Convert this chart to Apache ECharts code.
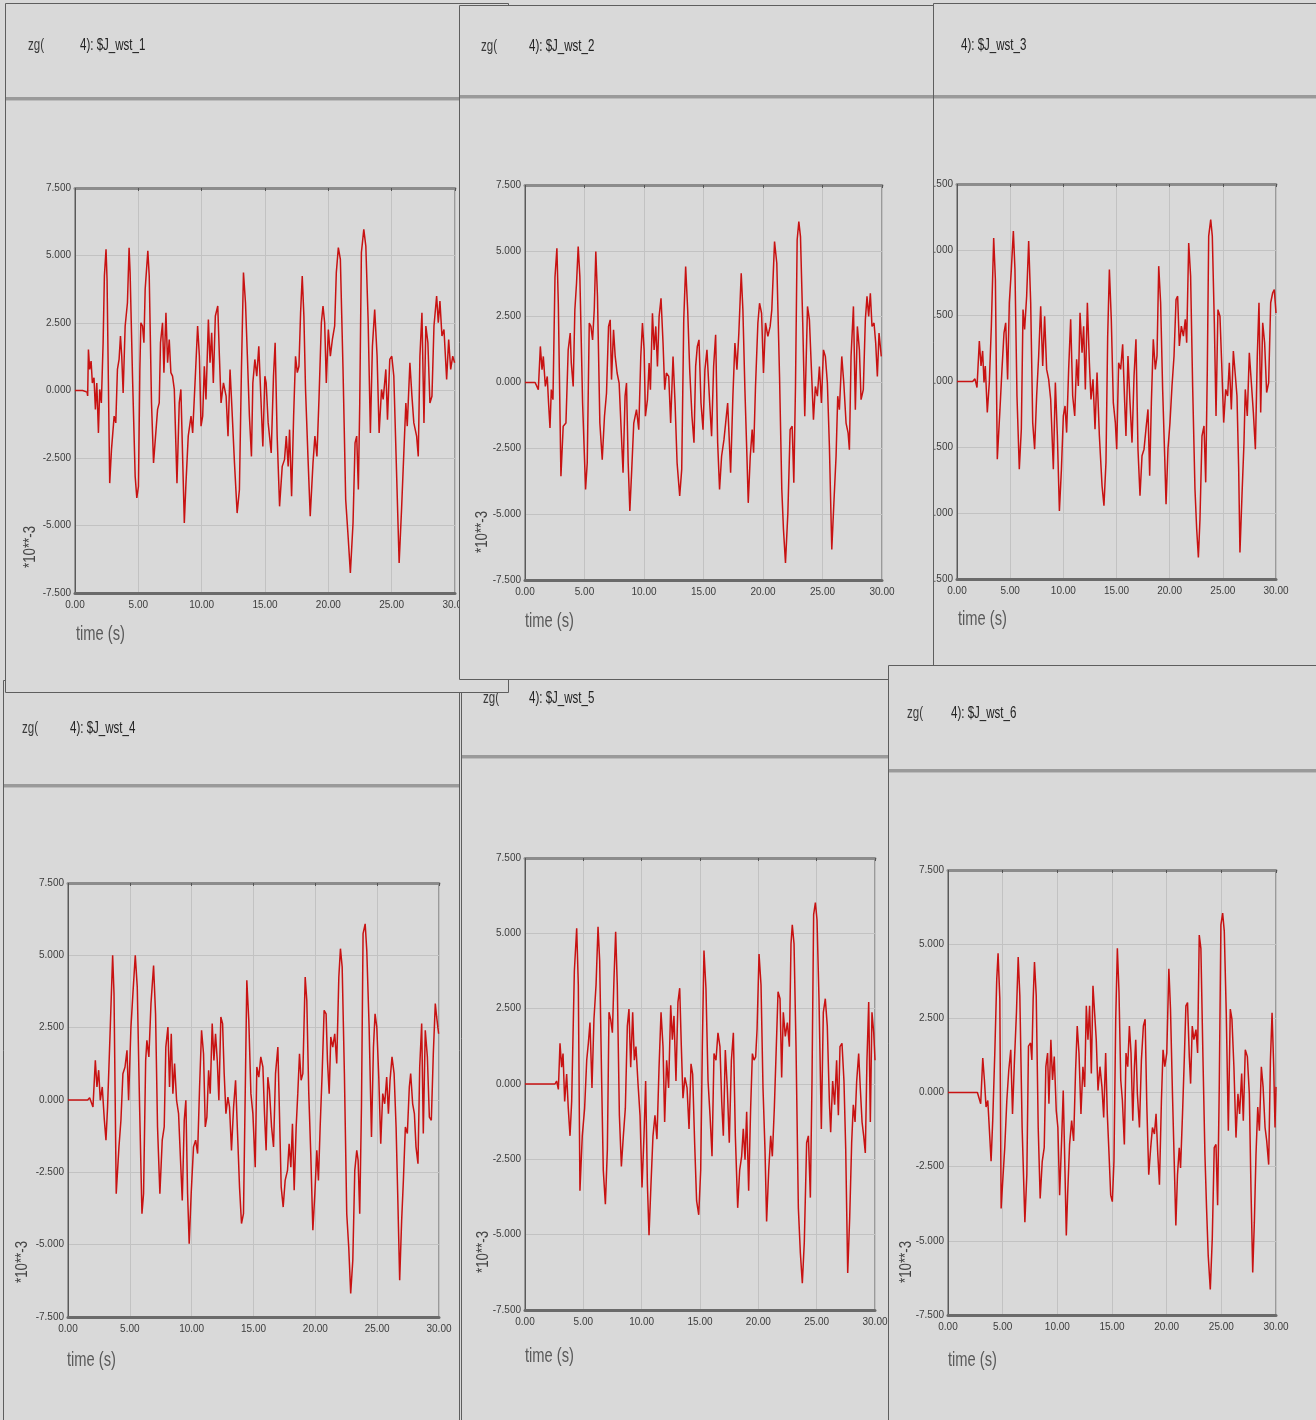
<!DOCTYPE html>
<html>
<head>
<meta charset="utf-8">
<script src="https://cdn.jsdelivr.net/npm/echarts@6/dist/echarts.min.js"></script>
<style>
html,body{margin:0;padding:0;background:#d9d9d9;}
#chart{width:1316px;height:1420px;}
</style>
</head>
<body>
<div id="chart"></div>
<script>
// ---- data (values in units of 10**-3) ----
const xTickLabels = ['0.00','5.00','10.00','15.00','20.00','25.00','30.00'];
const yTickLabels = ['-7.500','-5.000','-2.500','0.000','2.500','5.000','7.500'];
const titles = ['4): $J_wst_1','4): $J_wst_2','4): $J_wst_3','4): $J_wst_4','4): $J_wst_5','4): $J_wst_6'];
const prefix = 'zg(';
const xName = 'time (s)';
const yName = '*10**-3';

const wst1 = [[0,0],[0.6,0],[0.95,-0.06],[1.0,-0.2],[1.06,1.52],[1.16,0.78],[1.27,1.09],[1.37,0.28],[1.5,0.47],[1.61,-0.7],[1.72,0.28],[1.85,-1.57],[1.95,0.04],[2.08,-0.46],[2.22,1.77],[2.32,4.24],[2.45,5.23],[2.53,4.12],[2.74,-3.43],[2.88,-2.19],[3.09,-0.95],[3.22,-1.2],[3.35,0.78],[3.48,1.15],[3.59,2.02],[3.69,1.27],[3.8,-0.09],[3.96,2.39],[4.14,3.25],[4.27,5.29],[4.35,4.37],[4.54,0.53],[4.75,-3.18],[4.88,-3.98],[5.01,-3.55],[5.12,0.78],[5.2,2.51],[5.33,2.39],[5.44,1.77],[5.54,3.75],[5.75,5.17],[5.86,4.24],[6.04,-0.46],[6.2,-2.68],[6.31,-2.68],[6.52,-0.7],[6.65,-0.46],[6.75,1.77],[6.91,2.51],[7.02,0.66],[7.18,2.88],[7.31,1.03],[7.44,1.89],[7.57,0.66],[7.7,0.53],[7.84,0.04],[8.05,-3.43],[8.23,-0.46],[8.36,0.04],[8.63,-4.91],[8.76,-3.43],[8.94,-1.69],[9.16,-0.95],[9.29,-1.57],[9.5,0.53],[9.68,2.39],[9.82,1.27],[9.95,-1.32],[10.08,-0.95],[10.21,0.9],[10.34,-0.33],[10.53,2.63],[10.66,1.03],[10.79,2.14],[10.92,0.28],[11.08,2.76],[11.27,3.13],[11.4,1.27],[11.53,-0.46],[11.72,0.28],[11.93,-0.21],[12.08,-1.69],[12.24,0.78],[12.37,-0.46],[12.59,-2.68],[12.8,-4.54],[12.98,-3.67],[13.14,0.78],[13.3,4.37],[13.46,3.25],[13.61,1.27],[13.77,-0.95],[13.93,-2.44],[14.04,0.28],[14.2,1.15],[14.35,0.53],[14.51,1.64],[14.67,-0.21],[14.83,-2.07],[14.99,0.53],[15.09,0.28],[15.25,-1.2],[15.49,-2.31],[15.67,0.53],[15.8,1.77],[15.96,-1.69],[16.15,-4.29],[16.36,-2.81],[16.54,-2.56],[16.68,-1.69],[16.83,-2.81],[16.94,-1.45],[17.1,-3.92],[17.26,-0.95],[17.41,1.27],[17.55,0.66],[17.68,0.9],[17.81,2.88],[17.94,4.24],[18.07,2.76],[18.2,0.04],[18.39,-2.44],[18.57,-4.66],[18.79,-2.68],[18.94,-1.69],[19.1,-2.44],[19.26,-0.33],[19.45,2.51],[19.58,3.13],[19.71,2.51],[19.84,0.28],[20.0,2.26],[20.16,1.27],[20.32,1.89],[20.5,2.39],[20.63,4.37],[20.79,5.29],[20.95,4.86],[21.16,0.78],[21.37,-4.04],[21.56,-5.4],[21.74,-6.76],[21.95,-4.91],[22.11,-1.94],[22.24,-1.69],[22.37,-3.67],[22.48,-0.46],[22.61,5.11],[22.8,5.97],[22.96,5.35],[23.14,2.63],[23.32,-1.57],[23.48,1.64],[23.66,3.0],[23.85,1.27],[24.01,-1.57],[24.2,0.04],[24.33,-0.33],[24.54,0.78],[24.67,-1.08],[24.85,1.15],[25.01,1.27],[25.17,0.53],[25.38,-2.93],[25.59,-6.39],[25.78,-4.41],[25.96,-2.31],[26.12,-0.46],[26.23,-1.32],[26.44,1.03],[26.6,-0.21],[26.75,-1.2],[26.97,-1.69],[27.1,-2.44],[27.23,1.27],[27.39,2.88],[27.55,-1.2],[27.7,2.39],[27.86,1.77],[28.02,-0.46],[28.18,-0.21],[28.34,2.39],[28.55,3.5],[28.68,2.51],[28.81,3.31],[28.97,2.02],[29.13,2.26],[29.34,0.41],[29.5,1.89],[29.66,0.78],[29.82,1.27],[29.97,1.03]];

const wst2 = [[0,0],[0.85,0],[1.0,0.05],[1.12,-0.27],[1.29,1.37],[1.43,0.49],[1.54,0.99],[1.71,-0.15],[1.87,0.23],[1.98,-0.78],[2.1,-1.73],[2.21,-0.27],[2.35,-0.65],[2.52,4.0],[2.68,5.1],[2.8,3.0],[3.02,-3.56],[3.21,-1.66],[3.44,-1.54],[3.63,1.24],[3.8,1.88],[3.89,0.74],[4.05,-0.15],[4.19,2.76],[4.33,3.77],[4.47,5.16],[4.61,4.02],[4.84,-0.78],[5.09,-4.06],[5.23,-3.05],[5.4,2.26],[5.54,2.13],[5.68,1.62],[5.82,2.76],[5.95,4.97],[6.09,3.27],[6.29,-1.54],[6.49,-2.93],[6.68,-1.28],[6.85,-0.4],[7.02,2.13],[7.16,2.38],[7.27,0.11],[7.44,2.0],[7.58,0.99],[7.74,0.36],[7.91,-0.02],[8.08,-1.79],[8.24,-3.43],[8.41,-0.52],[8.53,-0.02],[8.67,-3.05],[8.81,-4.88],[8.97,-3.3],[9.14,-1.54],[9.37,-1.03],[9.56,-1.79],[9.73,0.99],[9.87,2.26],[10.01,1.24],[10.12,-1.28],[10.29,-0.65],[10.43,0.74],[10.54,-0.27],[10.71,2.63],[10.85,1.24],[10.99,2.13],[11.13,0.61],[11.27,2.51],[11.43,3.2],[11.6,1.5],[11.74,-0.27],[11.88,0.36],[12.08,0.23],[12.24,-1.54],[12.44,0.99],[12.61,-0.78],[12.78,-3.05],[13.0,-4.31],[13.17,-3.3],[13.34,2.38],[13.5,4.4],[13.67,2.76],[13.84,0.49],[14.03,-1.28],[14.2,-2.29],[14.34,0.61],[14.48,1.37],[14.62,1.62],[14.79,-0.78],[14.96,-1.79],[15.12,0.49],[15.29,1.24],[15.52,-0.78],[15.68,-2.04],[15.85,0.61],[16.02,1.81],[16.19,-2.29],[16.35,-4.06],[16.52,-2.8],[16.72,-2.17],[16.86,-1.54],[17.03,-0.78],[17.14,-1.91],[17.28,-3.43],[17.47,-0.52],[17.64,1.5],[17.81,0.49],[17.97,1.88],[18.17,4.15],[18.31,2.76],[18.48,-0.27],[18.65,-2.8],[18.76,-4.57],[18.93,-2.8],[19.09,-1.79],[19.21,-2.67],[19.37,-0.15],[19.57,2.26],[19.71,3.01],[19.88,2.63],[20.04,0.36],[20.21,2.26],[20.41,1.75],[20.6,2.13],[20.74,2.76],[20.97,5.35],[21.16,4.53],[21.39,0.23],[21.58,-4.06],[21.72,-5.58],[21.89,-6.85],[22.09,-4.95],[22.28,-1.79],[22.45,-1.66],[22.59,-3.81],[22.73,-0.15],[22.87,5.41],[23.01,6.11],[23.15,5.54],[23.34,2.26],[23.51,-1.28],[23.74,2.89],[23.9,2.38],[24.07,0.49],[24.24,-1.41],[24.4,-0.15],[24.57,-0.52],[24.74,0.61],[24.91,-0.78],[25.08,1.24],[25.24,0.99],[25.41,-0.02],[25.58,-2.42],[25.78,-6.34],[25.97,-4.44],[26.14,-2.8],[26.28,-0.52],[26.42,-1.03],[26.62,0.99],[26.79,-0.02],[26.98,-1.54],[27.15,-1.91],[27.26,-2.55],[27.4,0.99],[27.6,2.89],[27.76,-1.03],[27.93,2.13],[28.1,1.24],[28.24,-0.65],[28.43,-0.27],[28.6,2.38],[28.74,3.27],[28.88,2.51],[29.02,3.39],[29.16,2.13],[29.33,2.26],[29.47,1.5],[29.61,0.23],[29.75,1.88],[29.94,0.99]];

const wst3 = [[0,0],[1.47,0],[1.69,0.1],[1.88,-0.23],[2.1,1.54],[2.26,0.59],[2.41,1.16],[2.54,-0.04],[2.66,0.59],[2.85,-1.18],[3.04,-0.04],[3.23,2.1],[3.45,5.45],[3.61,3.87],[3.79,-2.95],[4.04,-1.06],[4.23,0.46],[4.42,1.85],[4.58,2.23],[4.76,0.08],[4.92,2.99],[5.11,4.25],[5.3,5.71],[5.45,4.25],[5.64,-0.55],[5.86,-3.33],[6.05,-1.81],[6.21,2.73],[6.36,1.98],[6.55,3.24],[6.74,5.33],[6.93,2.99],[7.12,-1.56],[7.3,-2.57],[7.49,-0.55],[7.68,0.97],[7.87,2.86],[8.06,0.59],[8.24,2.48],[8.43,0.46],[8.62,0.08],[8.81,-0.68],[9.06,-3.33],[9.25,-0.04],[9.44,-2.07],[9.63,-4.92],[9.82,-3.33],[10.0,-1.31],[10.16,-0.93],[10.31,-1.94],[10.5,0.46],[10.69,2.36],[10.88,-0.55],[11.07,-1.31],[11.25,0.84],[11.41,-0.17],[11.57,2.61],[11.76,1.09],[11.91,2.1],[12.07,-0.3],[12.26,2.99],[12.45,0.71],[12.6,-0.68],[12.79,0.08],[12.98,-1.81],[13.17,0.34],[13.39,-2.07],[13.64,-3.96],[13.82,-4.72],[14.01,-3.07],[14.17,1.72],[14.33,4.25],[14.51,2.36],[14.7,-0.8],[14.89,-1.56],[15.02,-2.57],[15.2,0.71],[15.39,0.46],[15.58,1.41],[15.77,-0.8],[15.89,-2.07],[16.08,0.97],[16.27,-0.8],[16.46,-2.32],[16.65,0.21],[16.83,1.6],[17.02,-2.57],[17.21,-4.34],[17.4,-2.82],[17.59,-2.57],[17.77,-1.81],[17.96,-1.06],[18.12,-3.58],[18.28,-0.8],[18.46,1.6],[18.65,0.46],[18.81,0.97],[18.97,4.38],[19.15,2.99],[19.34,-0.3],[19.53,-2.82],[19.66,-4.66],[19.84,-2.57],[20.03,-1.56],[20.22,-0.17],[20.41,0.97],[20.6,3.11],[20.75,3.24],[20.91,1.35],[21.1,2.1],[21.29,1.72],[21.47,2.36],[21.6,1.47],[21.79,5.26],[21.97,4.0],[22.16,-0.17],[22.38,-4.09],[22.54,-5.6],[22.7,-6.68],[22.85,-5.23],[23.04,-2.07],[23.23,-1.69],[23.39,-3.83],[23.54,0.46],[23.67,5.52],[23.86,6.15],[24.01,5.52],[24.2,2.23],[24.36,-1.31],[24.54,2.73],[24.73,2.48],[24.89,0.71],[25.08,-1.56],[25.27,-0.3],[25.45,-0.55],[25.61,0.71],[25.8,-1.06],[25.99,1.16],[26.17,1.22],[26.33,-0.55],[26.49,-3.33],[26.61,-6.49],[26.8,-4.34],[26.99,-2.32],[27.11,-0.3],[27.3,-1.31],[27.49,1.09],[27.68,-0.04],[27.87,-1.18],[28.06,-2.57],[28.24,0.97],[28.4,2.99],[28.56,-1.18],[28.75,2.23],[28.93,1.47],[29.12,-0.42],[29.31,-0.04],[29.5,2.99],[29.69,3.37],[29.84,3.49],[30.0,2.6]];

const wst4 = [[0,0],[1.59,0],[1.75,0.08],[2.02,-0.24],[2.21,1.37],[2.34,0.45],[2.48,1.03],[2.61,-0.01],[2.77,0.45],[2.94,-0.7],[3.07,-1.39],[3.2,-0.24],[3.42,2.52],[3.61,5.0],[3.72,3.68],[3.9,-3.24],[4.12,-1.62],[4.28,-0.7],[4.44,0.91],[4.61,1.14],[4.77,1.72],[4.9,-0.01],[5.09,2.52],[5.25,3.68],[5.44,5.0],[5.6,3.91],[5.79,-0.24],[5.98,-3.93],[6.11,-3.24],[6.28,1.37],[6.38,2.06],[6.54,1.49],[6.71,3.33],[6.92,4.65],[7.08,2.98],[7.24,-0.93],[7.43,-3.24],[7.62,-1.39],[7.78,-0.93],[7.91,1.83],[8.08,2.52],[8.21,0.45],[8.35,2.29],[8.48,0.22],[8.62,1.26],[8.78,-0.01],[8.94,-0.47],[9.1,-2.09],[9.24,-3.47],[9.4,-0.7],[9.53,-0.01],[9.67,-3.24],[9.8,-4.97],[9.96,-3.24],[10.15,-1.62],[10.32,-1.39],[10.48,-1.85],[10.64,0.45],[10.8,2.41],[10.96,1.6],[11.1,-0.93],[11.23,-0.59],[11.37,1.03],[11.5,0.22],[11.66,2.64],[11.8,1.37],[11.93,2.29],[12.07,1.37],[12.2,-0.01],[12.36,2.87],[12.5,2.64],[12.63,0.91],[12.77,-0.47],[12.93,0.1],[13.06,-0.24],[13.22,-1.74],[13.39,-0.24],[13.55,0.68],[13.71,-1.16],[13.87,-3.01],[14.03,-4.27],[14.19,-3.93],[14.33,0.22],[14.46,4.14],[14.62,2.75],[14.79,0.22],[14.95,-0.47],[15.14,-2.32],[15.27,1.14],[15.43,0.79],[15.59,1.49],[15.76,1.14],[15.89,-0.47],[16.02,-1.74],[16.16,0.79],[16.29,0.33],[16.46,-0.93],[16.62,-1.62],[16.78,0.91],[16.97,1.83],[17.1,-0.47],[17.24,-3.01],[17.4,-3.7],[17.56,-2.78],[17.75,-2.43],[17.88,-1.51],[18.02,-2.32],[18.15,-0.82],[18.29,-3.12],[18.45,-0.93],[18.58,0.22],[18.72,1.6],[18.85,0.68],[18.99,0.91],[19.18,4.25],[19.31,3.44],[19.47,0.22],[19.63,-1.85],[19.8,-4.5],[19.96,-3.24],[20.12,-1.74],[20.25,-2.78],[20.39,-0.93],[20.55,0.91],[20.71,3.1],[20.87,2.98],[20.98,1.37],[21.12,0.22],[21.25,2.18],[21.41,1.83],[21.57,2.29],[21.73,1.26],[21.9,4.25],[22.03,5.23],[22.17,4.6],[22.35,0.91],[22.54,-3.93],[22.7,-5.08],[22.86,-6.69],[23.03,-5.54],[23.19,-2.43],[23.35,-1.74],[23.46,-2.09],[23.59,-3.93],[23.73,-0.24],[23.86,5.75],[24.03,6.09],[24.16,5.17],[24.35,2.52],[24.54,-1.28],[24.7,1.83],[24.83,2.98],[24.97,2.52],[25.13,0.79],[25.29,-1.51],[25.45,0.22],[25.61,-0.13],[25.77,0.79],[25.91,-0.47],[26.04,0.68],[26.2,1.49],[26.37,0.91],[26.53,-0.93],[26.66,-3.24],[26.82,-6.23],[26.98,-4.16],[27.12,-2.78],[27.28,-0.93],[27.44,-1.16],[27.6,0.45],[27.71,0.91],[27.87,-0.13],[28.01,-0.47],[28.14,-1.62],[28.3,-2.2],[28.44,1.14],[28.6,2.64],[28.73,-1.16],[28.89,2.41],[29.06,1.49],[29.22,-0.59],[29.38,-0.7],[29.54,1.6],[29.7,3.33],[29.81,2.87],[29.97,2.29]];

const wst5 = [[0,0],[2.57,0],[2.71,0.1],[2.86,-0.18],[3.0,1.35],[3.14,0.56],[3.26,1.01],[3.4,-0.58],[3.57,0.33],[3.71,-0.81],[3.86,-1.72],[4.0,-0.58],[4.23,3.74],[4.43,5.17],[4.57,3.29],[4.71,-3.54],[4.91,-1.72],[5.11,-0.81],[5.29,0.79],[5.43,1.35],[5.57,2.04],[5.74,-0.13],[5.91,2.15],[6.09,3.29],[6.26,5.22],[6.4,4.09],[6.57,0.1],[6.71,-2.86],[6.89,-3.99],[7.06,-2.17],[7.2,2.38],[7.34,2.15],[7.49,1.7],[7.63,3.52],[7.77,5.05],[7.91,3.29],[8.09,-1.04],[8.26,-2.74],[8.43,-1.72],[8.6,-0.81],[8.77,1.92],[8.91,2.49],[9.06,0.56],[9.23,2.38],[9.37,0.79],[9.51,1.24],[9.69,-0.01],[9.86,-1.04],[10.03,-3.43],[10.2,-1.72],[10.34,0.1],[10.49,-3.31],[10.63,-5.02],[10.8,-3.31],[10.97,-1.72],[11.14,-1.04],[11.31,-1.83],[11.49,0.56],[11.66,2.38],[11.83,1.24],[11.97,-1.26],[12.14,0.79],[12.31,-0.13],[12.49,2.61],[12.63,1.47],[12.77,2.26],[12.94,0.1],[13.11,2.72],[13.26,3.18],[13.4,1.24],[13.54,-0.47],[13.71,0.22],[13.89,-0.13],[14.06,-1.49],[14.23,0.67],[14.37,0.33],[14.54,-1.95],[14.71,-3.88],[14.89,-4.34],[15.06,-2.86],[15.2,1.24],[15.34,4.43],[15.51,3.18],[15.69,0.1],[15.86,-1.04],[16.03,-2.4],[16.2,1.01],[16.37,0.79],[16.54,1.7],[16.71,1.24],[16.86,-0.58],[17.0,-1.72],[17.17,1.13],[17.34,-0.13],[17.51,-1.95],[17.69,0.79],[17.86,1.7],[18.03,-1.72],[18.23,-4.11],[18.4,-2.86],[18.57,-2.4],[18.71,-1.49],[18.86,-2.51],[19.0,-0.92],[19.17,-3.54],[19.34,-0.81],[19.49,1.01],[19.63,0.79],[19.77,0.9],[19.89,1.81],[20.06,4.31],[20.23,3.29],[20.4,-0.13],[20.57,-2.17],[20.71,-4.56],[20.89,-2.86],[21.06,-1.72],[21.2,-2.4],[21.37,-0.81],[21.54,1.24],[21.69,3.06],[21.86,2.83],[22.0,0.22],[22.14,2.38],[22.31,1.58],[22.49,2.04],[22.66,1.24],[22.8,4.65],[22.91,5.28],[23.06,4.65],[23.23,1.24],[23.43,-4.11],[23.6,-5.59],[23.77,-6.61],[23.94,-5.25],[24.14,-1.95],[24.29,-1.72],[24.46,-3.77],[24.6,0.1],[24.74,5.62],[24.89,6.02],[25.03,5.45],[25.2,2.83],[25.4,-1.49],[25.57,2.38],[25.74,2.83],[25.91,1.92],[26.09,-0.58],[26.2,-1.6],[26.37,0.1],[26.54,-0.69],[26.71,0.79],[26.86,-1.04],[27.0,1.24],[27.17,1.35],[27.34,0.1],[27.49,-2.17],[27.66,-6.27],[27.83,-4.45],[28.0,-1.95],[28.14,-0.69],[28.29,-1.26],[28.43,0.1],[28.6,1.01],[28.74,-0.13],[28.89,-1.26],[29.03,-1.72],[29.17,-2.29],[29.31,0.79],[29.46,2.72],[29.6,-1.26],[29.74,2.38],[29.89,1.7],[30.0,0.79]];

const wst6 = [[0,0],[2.69,0],[2.84,-0.04],[2.99,-0.38],[3.18,1.16],[3.33,0.42],[3.48,-0.49],[3.64,-0.27],[3.79,-1.29],[3.94,-2.32],[4.09,-0.95],[4.28,1.33],[4.46,3.83],[4.58,4.69],[4.74,3.15],[4.86,-3.91],[5.04,-2.77],[5.19,-1.86],[5.38,-0.27],[5.56,0.76],[5.74,1.44],[5.9,-0.72],[6.08,1.1],[6.26,2.69],[6.42,4.57],[6.57,3.26],[6.78,-1.18],[7.03,-4.37],[7.21,-2.77],[7.36,1.56],[7.55,1.67],[7.67,1.1],[7.79,3.15],[7.91,4.4],[8.07,3.26],[8.25,-1.18],[8.43,-3.57],[8.62,-2.32],[8.8,-1.86],[8.95,0.87],[9.11,1.33],[9.23,-0.38],[9.41,1.78],[9.56,0.42],[9.72,1.21],[9.9,-0.61],[10.05,-1.18],[10.21,-3.46],[10.39,-1.63],[10.54,0.07],[10.7,-2.66],[10.82,-4.82],[10.94,-3.46],[11.12,-1.75],[11.31,-0.95],[11.49,-1.63],[11.67,0.76],[11.82,2.24],[11.98,1.33],[12.16,-0.72],[12.34,0.87],[12.5,0.19],[12.65,2.92],[12.8,1.78],[12.95,2.92],[13.11,0.64],[13.26,3.6],[13.41,3.66],[13.56,1.78],[13.72,0.07],[13.9,0.87],[14.08,0.19],[14.24,-0.84],[14.42,1.33],[14.57,-0.72],[14.73,-2.09],[14.88,-3.46],[15.03,-3.68],[15.18,-2.32],[15.34,2.47],[15.49,4.86],[15.64,3.38],[15.8,0.42],[15.95,-0.27],[16.13,-1.75],[16.28,1.33],[16.44,0.87],[16.59,2.24],[16.74,1.33],[16.9,-0.95],[17.05,0.87],[17.17,1.78],[17.32,-0.04],[17.51,-1.18],[17.69,1.1],[17.87,2.24],[18.03,2.47],[18.18,-0.38],[18.36,-2.77],[18.54,-1.86],[18.7,-1.18],[18.88,-1.4],[19.03,-0.72],[19.19,-2.09],[19.34,-3.11],[19.52,-0.27],[19.67,1.44],[19.83,0.87],[20.01,1.33],[20.2,4.17],[20.35,2.81],[20.53,-0.04],[20.69,-2.32],[20.84,-4.48],[20.99,-2.77],[21.15,-1.86],[21.27,-2.54],[21.45,-0.72],[21.61,1.1],[21.76,2.92],[21.91,3.03],[22.07,1.21],[22.19,0.3],[22.34,2.24],[22.49,1.78],[22.68,2.12],[22.83,1.33],[22.98,5.31],[23.13,4.86],[23.31,1.33],[23.5,-2.09],[23.65,-3.91],[23.8,-5.5],[23.99,-6.64],[24.17,-4.93],[24.35,-1.86],[24.51,-1.75],[24.66,-3.8],[24.81,0.19],[24.96,5.65],[25.12,6.05],[25.27,5.43],[25.45,2.69],[25.64,-1.29],[25.82,2.81],[25.97,2.47],[26.15,0.87],[26.34,-1.52],[26.52,-0.04],[26.67,-0.72],[26.86,0.64],[27.01,-0.95],[27.19,1.44],[27.38,1.21],[27.56,-0.04],[27.71,-3.23],[27.87,-6.07],[28.02,-4.37],[28.17,-2.09],[28.33,-0.49],[28.48,-1.29],[28.66,0.87],[28.82,0.19],[29.0,-1.18],[29.15,-1.63],[29.33,-2.43],[29.49,1.1],[29.64,2.69],[29.79,0.87],[29.91,-1.18],[30.0,0.19]];

const seriesData = [wst1, wst2, wst3, wst4, wst5, wst6];

// ---- layout (window frames, stacking order, plot boxes) ----
const FONT = "'Liberation Sans','DejaVu Sans',sans-serif";
const layout = [
  {zl:3, win:[5,3,503,689],   sep:99,  zg:[28,46],  ti:[80,46],  grid:[75,188,380,405], yn:[30,547],  tn:[76,634]},
  {zl:4, win:[459,5,474,674], sep:97,  zg:[481,47], ti:[529,47], grid:[525,185,357,395], yn:[482,532], tn:[525,621]},
  {zl:2, win:[933,3,420,700], sep:97,  zg:null,     ti:[961,46], grid:[957,184,319,395], yn:null,      tn:[958,619]},
  {zl:0, win:[3,680,456,745], sep:786, zg:[22,729], ti:[70,729], grid:[68,883,371,434],  yn:[22,1262], tn:[67,1360]},
  {zl:1, win:[461,655,427,770], sep:757, zg:[483,699], ti:[529,699], grid:[525,858,350,452], yn:[483,1252], tn:[525,1356]},
  {zl:5, win:[888,665,440,760], sep:771, zg:[907,714], ti:[951,714], grid:[948,870,328,445], yn:[906,1262], tn:[948,1360]}
];

const graphic = [];
const grids = [], xAxes = [], yAxes = [], series = [];
const xLabelFmt = v => xTickLabels[Math.round(v / 5)];
const yLabelFmt = v => yTickLabels[Math.round((v + 7.5) / 2.5)];

layout.forEach((p, i) => {
  const [wx, wy, ww, wh] = p.win;
  graphic.push({type:'rect', zlevel:p.zl, z:0, shape:{x:wx+0.5, y:wy+0.5, width:ww, height:wh},
    style:{fill:'#d9d9d9', stroke:'#5e5e5e', lineWidth:1}});
  graphic.push({type:'rect', zlevel:p.zl, z:1, shape:{x:wx+1, y:p.sep-2, width:ww-1, height:3},
    style:{fill:'#9a9a9a'}});
  graphic.push({type:'rect', zlevel:p.zl, z:1, shape:{x:wx+1, y:p.sep+1, width:ww-1, height:1},
    style:{fill:'#bcbcbc'}});
  if (p.zg) graphic.push({type:'text', zlevel:p.zl, z:5, x:p.zg[0], y:p.zg[1], scaleX:0.72,
    style:{text:prefix, font:'16px ' + FONT, fill:'#3a3a3a', verticalAlign:'middle', align:'left'}});
  graphic.push({type:'text', zlevel:p.zl, z:5, x:p.ti[0], y:p.ti[1], scaleX:0.72,
    style:{text:titles[i], font:'16px ' + FONT, fill:'#222', verticalAlign:'middle', align:'left'}});
  if (p.yn) graphic.push({type:'text', zlevel:p.zl, z:5, x:p.yn[0], y:p.yn[1], rotation:Math.PI/2, scaleX:0.78,
    style:{text:yName, font:'17px ' + FONT, fill:'#444', verticalAlign:'middle', align:'center'}});
  graphic.push({type:'text', zlevel:p.zl, z:5, x:p.tn[0], y:p.tn[1], scaleX:0.7,
    style:{text:xName, font:'21px ' + FONT, fill:'#5a5a5a', verticalAlign:'middle', align:'left'}});

  const [gl, gt, gw, gh] = p.grid;
  grids.push({left:gl, top:gt, width:gw, height:gh, show:true, backgroundColor:'transparent',
    borderColor:'#5a5a5a', borderWidth:1, zlevel:p.zl, z:2, containLabel:false});

  const common = {gridIndex:i, zlevel:p.zl, z:3};
  xAxes.push(Object.assign({}, common, {type:'value', position:'bottom', min:0, max:30, interval:5,
    axisLine:{show:true, onZero:false, lineStyle:{color:'#6a6a6a', width:3}},
    axisTick:{show:false},
    axisLabel:{show:true, formatter:xLabelFmt, fontFamily:FONT, fontSize:10, color:'#3c3c3c', margin:7, showMaxLabel:true, showMinLabel:true, hideOverlap:false},
    splitLine:{show:true, lineStyle:{color:'#c2c2c2', width:1}}}));
  xAxes.push(Object.assign({}, common, {type:'value', position:'top', min:0, max:30, interval:5,
    axisLine:{show:true, onZero:false, lineStyle:{color:'#8c8c8c', width:3}},
    axisTick:{show:true, inside:true, length:3, lineStyle:{color:'#555'}}, axisLabel:{show:false}, splitLine:{show:false}}));
  yAxes.push(Object.assign({}, common, {type:'value', position:'left', min:-7.5, max:7.5, interval:2.5,
    axisLine:{show:true, onZero:false, lineStyle:{color:'#5a5a5a', width:1}},
    axisTick:{show:false},
    axisLabel:{show:true, formatter:yLabelFmt, fontFamily:FONT, fontSize:10, color:'#3c3c3c', margin:4, showMaxLabel:true, showMinLabel:true},
    splitLine:{show:true, lineStyle:{color:'#c2c2c2', width:1}}}));
  series.push({type:'line', name:titles[i], xAxisIndex:2*i, yAxisIndex:i, data:seriesData[i],
    showSymbol:false, symbol:'none', smooth:false, clip:true, zlevel:p.zl, z:4,
    lineStyle:{color:'#c81212', width:1.5}});
});

const chart = echarts.init(document.getElementById('chart'), null, {renderer:'canvas'});
chart.setOption({
  animation:false,
  backgroundColor:'#d9d9d9',
  graphic:{elements:graphic},
  grid:grids, xAxis:xAxes, yAxis:yAxes, series:series
});
</script>
</body>
</html>
